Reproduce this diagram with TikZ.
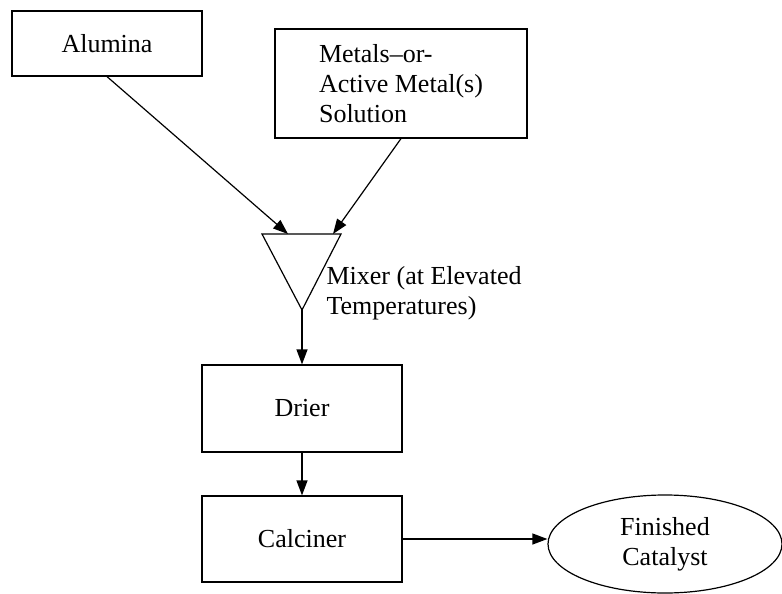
\documentclass[tikz,border=0pt]{standalone}
\usepackage{fontspec}
\setmainfont{Liberation Serif}
\usetikzlibrary{arrows.meta}
\usetikzlibrary{shapes.geometric}

\begin{document}
\begin{tikzpicture}[x=0.5pt, y=-0.5pt, >={Triangle[length=7.5pt,width=5.5pt]},
        line width=0.6pt,
        font=\fontsize{13}{15}\selectfont,
        unit/.style={draw, rectangle, inner sep=0pt},
        product/.style={draw, ellipse, inner sep=0pt, align=center}]
        \useasboundingbox (0,0) rectangle (782,594);

        \node[unit, minimum width=95pt, minimum height=32.5pt] (alumina) at (107,43.5) {Alumina};
        \node[unit, minimum width=126pt, minimum height=54.5pt, align=left] (metals) at (401,83.5)
            {Metals--or-\\Active Metal(s)\\Solution};

        % mixer (funnel)
        \coordinate (mixL) at (262,234);
        \coordinate (mixR) at (341,234);
        \coordinate (mixApex) at (302,310);
        \coordinate (mixInA) at (288,234);
        \coordinate (mixInB) at (333,234);
        \draw (mixL) -- (mixR) -- (mixApex) -- cycle;
        \node[anchor=west, align=left, inner sep=0pt] (mixlabel) at (326,293) {Mixer (at Elevated\\Temperatures)};

        \node[unit, minimum width=100pt, minimum height=43.5pt] (drier) at (302,408.5) {Drier};
        \node[unit, minimum width=100pt, minimum height=43pt] (calciner) at (302,539) {Calciner};
        \node[product, minimum width=117pt, minimum height=49pt] (catalyst) at (665,544) {Finished\\Catalyst};

        \draw[->] (alumina.south) -- (mixInA);
        \draw[->] (metals.south) -- (mixInB);
        \draw[->] (mixApex) -- (drier.north);
        \draw[->] (drier) -- (calciner);
        \draw[->] (calciner.east) -- (calciner.east -| catalyst.west);
    \end{tikzpicture}
\end{document}
